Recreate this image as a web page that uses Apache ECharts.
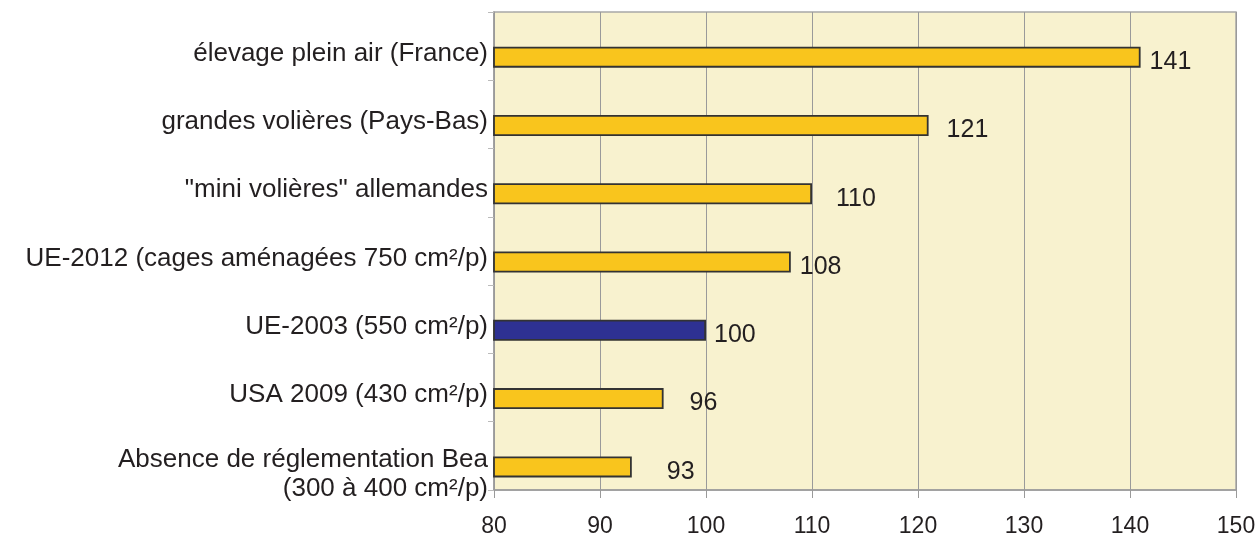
<!DOCTYPE html>
<html>
<head>
<meta charset="utf-8">
<script src="https://cdn.jsdelivr.net/npm/echarts@6/dist/echarts.min.js"></script>
<style>
html,body{margin:0;padding:0;background:#fff;}
#c{width:1260px;height:544px;}
</style>
</head>
<body>
<div id="c"></div>
<script>
// Data (top to bottom)
const categories = [
  'élevage plein air (France)',
  'grandes volières (Pays-Bas)',
  '"mini volières" allemandes',
  'UE-2012 (cages aménagées 750 cm²/p)',
  'UE-2003 (550 cm²/p)',
  'USA 2009 (430 cm²/p)',
  'Absence de réglementation Bea\n(300 à 400 cm²/p)'
];
const values = [141, 121, 110, 108, 100, 96, 93];
const highlighted = [false, false, false, false, true, false, false];
const xTicks = { min: 80, max: 150, interval: 10 };

// Styling (label horizontal shifts, px)
const labelDx = [9, 18, 24, 9, 8, 26, 35];

const YELLOW = '#f9c51d';
const NAVY = '#2e3192';
const TXT = '#231f20';
const GRAYLINE = '#9a9a9a';
const CAT_FONT = 26;

const chart = echarts.init(document.getElementById('c'));
chart.setOption({
  animation: false,
  textStyle: { fontFamily: 'Liberation Sans, Arial, sans-serif' },
  grid: {
    left: 494, right: 24, top: 12, bottom: 54,
    show: true, backgroundColor: '#f8f2cf', borderColor: '#a8a8a8', borderWidth: 1.5
  },
  xAxis: {
    type: 'value', min: xTicks.min, max: xTicks.max, interval: xTicks.interval,
    axisLine: { show: true, lineStyle: { color: GRAYLINE, width: 1.5 } },
    axisTick: { show: true, length: 8, lineStyle: { color: GRAYLINE } },
    splitLine: { show: true, lineStyle: { color: GRAYLINE, width: 1 } },
    axisLabel: { color: TXT, fontSize: 23, margin: 25 }
  },
  yAxis: {
    type: 'category', inverse: true, data: categories,
    axisLine: { show: true, lineStyle: { color: GRAYLINE, width: 1.5 } },
    axisTick: { show: true, length: 6, alignWithLabel: false, lineStyle: { color: '#bbbbbb' } },
    axisLabel: {
      interval: 0, color: TXT, fontSize: CAT_FONT, margin: 6, align: 'right', verticalAlign: 'top',
      formatter: function (v) {
        const parts = v.split('\n');
        if (parts.length === 1) return '{s|' + v + '}';
        return '{a|' + parts[0] + '}\n{b|' + parts[1] + '}';
      },
      rich: {
        s: { fontSize: CAT_FONT, color: TXT, lineHeight: 15 },
        a: { fontSize: CAT_FONT, color: TXT, lineHeight: 8 },
        b: { fontSize: CAT_FONT, color: TXT, lineHeight: 50 }
      }
    }
  },
  series: [
    {
      type: 'bar', name: 'placeholder', data: categories.map(() => '-'),
      barWidth: 21, barGap: '5%', silent: true
    },
    {
      type: 'bar', name: 'indice',
      barWidth: 21,
      data: values.map((v, i) => ({
        value: v,
        itemStyle: { color: highlighted[i] ? NAVY : YELLOW },
        label: { offset: [labelDx[i], 5] }
      })),
      itemStyle: { borderColor: '#333333', borderWidth: 1.8 },
      label: { show: true, position: 'right', distance: 0, color: TXT, fontSize: 25 }
    }
  ]
});
</script>
</body>
</html>
